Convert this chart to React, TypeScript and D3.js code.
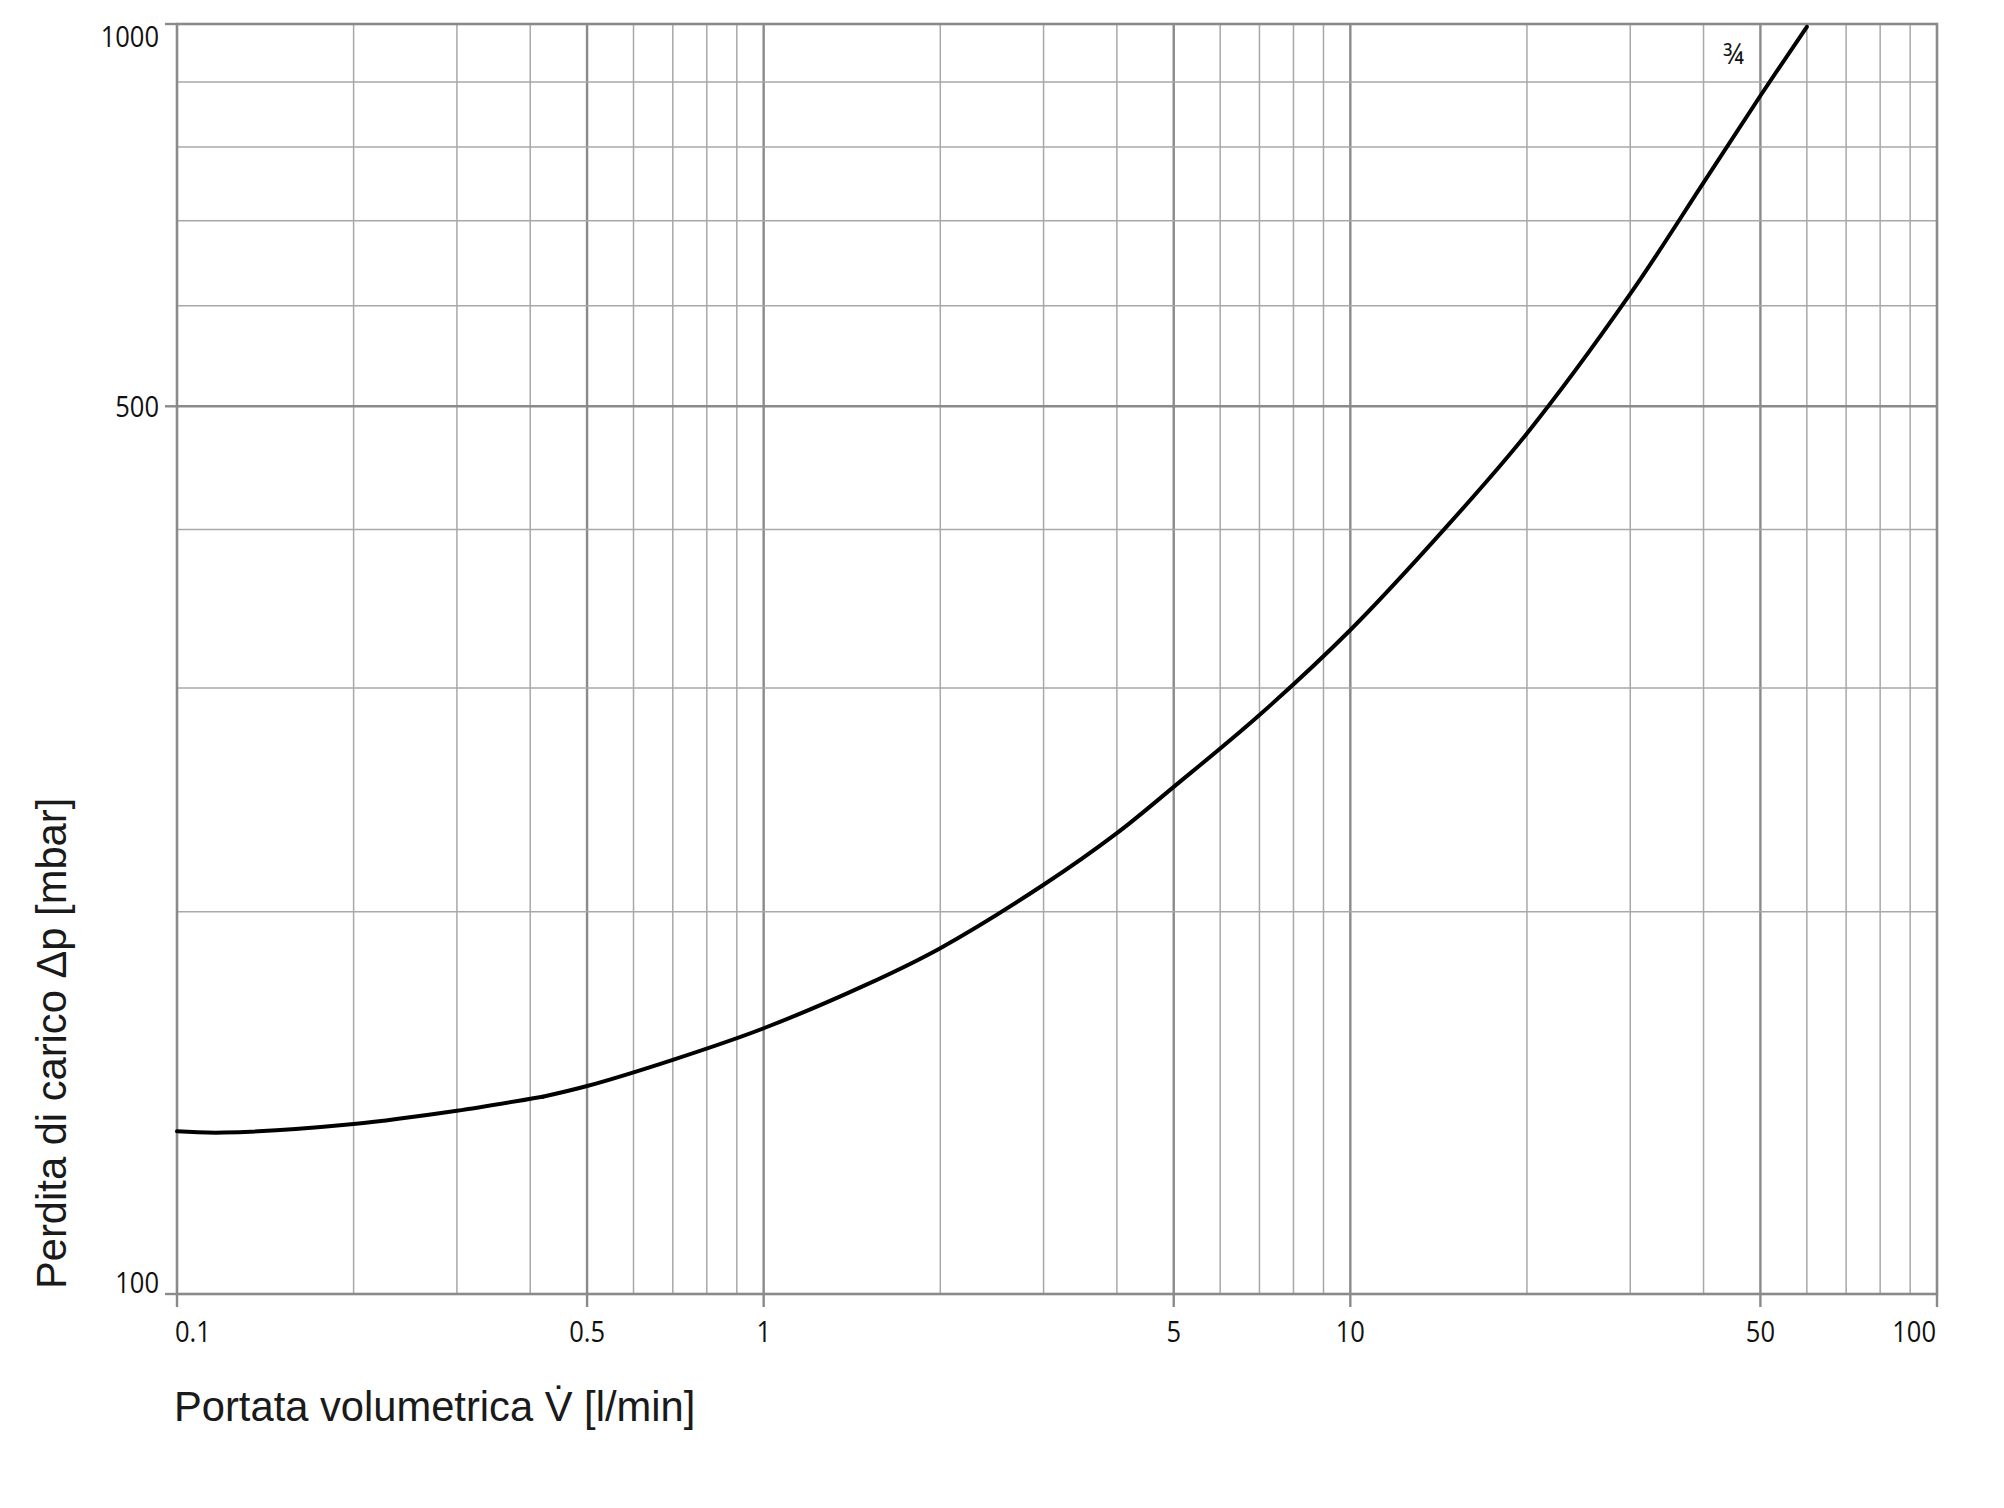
import React from 'react';
import * as d3 from 'd3';

// Flow rate V̇ [l/min]
const flowRate = [0.1, 0.12, 0.2, 0.3, 0.42, 0.5, 0.7, 1, 1.5, 2, 3, 4, 5, 7, 10, 14.45, 20, 30, 40, 50, 60];
// Pressure loss Δp [mbar]
const pressureLoss = [134.3, 134.0, 136.1, 139.4, 143.0, 145.8, 152.9, 161.9, 175.3, 187.2, 210, 230.6, 250.8, 285.7, 333.3, 400, 476, 613, 750, 878, 995];
// index of the visible corner in the curve (at 0.42 l/min)
const kinkIndex = 4;

const xTickValues = [0.1, 0.5, 1, 5, 10, 50, 100];
const xTickLabels = ['0.1', '0.5', '1', '5', '10', '50', '100'];
const yTickValues = [100, 500, 1000];
const yTickLabels = ['100', '500', '1000'];
const xMajorGrid = [0.5, 1, 5, 10, 50];
const yMajorGrid = [500];
const seriesLabel = '¾';
const seriesLabelPos = [45, 930];
const xTitle = 'Portata volumetrica V̇ [l/min]';
const yTitle = 'Perdita di carico Δp [mbar]';

const W = 2004;
const H = 1508;
const L = 177, R = 1937, T = 24, B = 1294;

export default function App() {
  const x = d3.scaleLog().domain([0.1, 100]).range([L, R]);
  const y = d3.scaleLog().domain([100, 1000]).range([B, T]);

  const xGrid = x.ticks().filter(v => v > 0.1 * 1.0001 && v < 100 * 0.9999);
  const yGrid = y.ticks().filter(v => v > 100 * 1.0001 && v < 1000 * 0.9999);
  const isMajorX = (v: number) => xMajorGrid.some(m => Math.abs(m - v) / m < 1e-6);
  const isMajorY = (v: number) => yMajorGrid.some(m => Math.abs(m - v) / m < 1e-6);

  const pts = flowRate.map((f, i) => [f, pressureLoss[i]] as [number, number]);
  const seg1 = pts.slice(0, kinkIndex + 1);
  const seg2 = pts.slice(kinkIndex);
  const line = d3.line<[number, number]>()
    .x(d => x(d[0]))
    .y(d => y(d[1]))
    .curve(d3.curveCatmullRom.alpha(0.5));

  const tickFont = "'Open Sans', 'Noto Sans', sans-serif";
  const titleFont = "'Liberation Sans', Arial, sans-serif";
  const minorColor = '#a8a8a8';
  const majorColor = '#8a8a8a';
  const sx = 0.88;

  return (
    <svg width={W} height={H} style={{ position: 'absolute', left: 0, top: 0, background: '#fff' }}>
      <rect x={0} y={0} width={W} height={H} fill="#fff" />
      {/* vertical grid */}
      {xGrid.map((v, i) => (
        <line key={'vx' + i} x1={x(v)} x2={x(v)} y1={T} y2={B}
          stroke={isMajorX(v) ? majorColor : minorColor}
          strokeWidth={isMajorX(v) ? 2.4 : 1.5} />
      ))}
      {/* horizontal grid */}
      {yGrid.map((v, i) => (
        <line key={'hy' + i} x1={L} x2={R} y1={y(v)} y2={y(v)}
          stroke={isMajorY(v) ? majorColor : minorColor}
          strokeWidth={isMajorY(v) ? 2.4 : 1.5} />
      ))}
      {/* frame */}
      <rect x={L} y={T} width={R - L} height={B - T} fill="none" stroke={majorColor} strokeWidth={2.6} />
      {/* x ticks */}
      {xTickValues.map((v, i) => (
        <line key={'xt' + i} x1={x(v)} x2={x(v)} y1={B} y2={B + 13} stroke={majorColor} strokeWidth={2.4} />
      ))}
      {/* y ticks */}
      {yTickValues.map((v, i) => (
        <line key={'yt' + i} x1={L - 12} x2={L} y1={y(v)} y2={y(v)} stroke={majorColor} strokeWidth={2.4} />
      ))}
      {/* x tick labels */}
      {xTickValues.map((v, i) => {
        const first = i === 0;
        const last = i === xTickValues.length - 1;
        const tx = first ? x(v) - 2 : last ? x(v) - 1 : x(v);
        return (
          <text key={'xl' + i} transform={`translate(${tx},1342) scale(${sx},1)`}
            textAnchor={first ? 'start' : last ? 'end' : 'middle'}
            fontFamily={tickFont} fontSize={29} fontWeight={500} fill="#111">{xTickLabels[i]}</text>
        );
      })}
      {/* y tick labels */}
      {yTickValues.map((v, i) => {
        const first = i === 0;
        const last = i === yTickValues.length - 1;
        const yy = first ? y(v) - 1 : last ? y(v) + 23 : y(v) + 11;
        return (
          <text key={'yl' + i} transform={`translate(159,${yy}) scale(${sx},1)`} textAnchor="end"
            fontFamily={tickFont} fontSize={29} fontWeight={500} fill="#111">{yTickLabels[i]}</text>
        );
      })}
      {/* curve */}
      <path d={line(seg1) || ''} fill="none" stroke="#000" strokeWidth={4} strokeLinejoin="round" strokeLinecap="round" />
      <path d={line(seg2) || ''} fill="none" stroke="#000" strokeWidth={4} strokeLinejoin="round" strokeLinecap="round" />
      {/* series label */}
      <text transform={`translate(${x(seriesLabelPos[0])},${y(seriesLabelPos[1])}) scale(${sx},1)`} textAnchor="middle"
        fontFamily={tickFont} fontSize={30} fontWeight={500} fill="#111">{seriesLabel}</text>
      {/* axis titles */}
      <text x={174} y={1421} fontFamily={titleFont} fontSize={41.7} fill="#1a1a1a">{xTitle}</text>
      <text transform={`translate(66, 1289) rotate(-90)`} fontFamily={titleFont} fontSize={41.7} fill="#1a1a1a">{yTitle}</text>
    </svg>
  );
}
